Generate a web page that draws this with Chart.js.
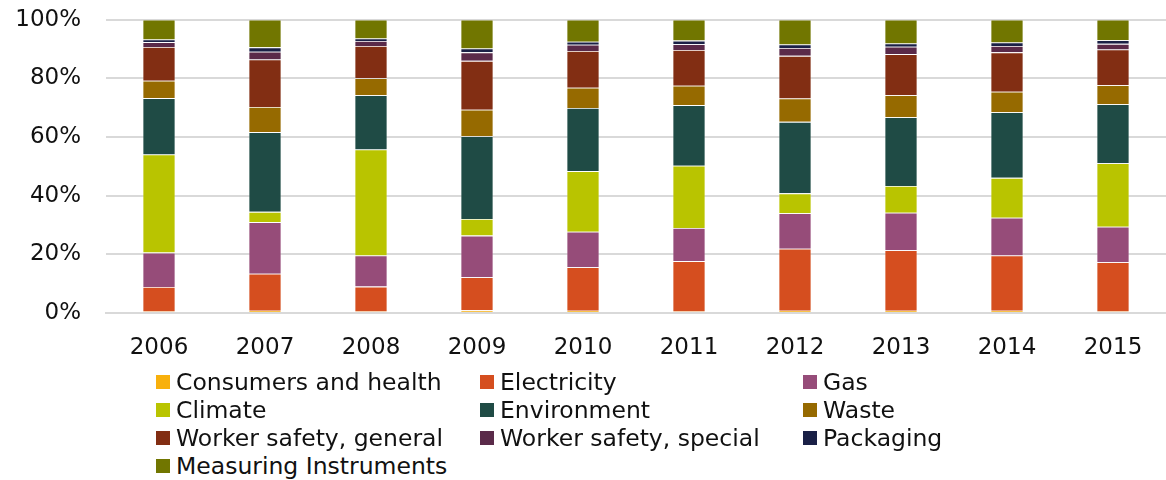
<!DOCTYPE html>
<html>
<head>
<meta charset="utf-8">
<script src="https://cdn.jsdelivr.net/npm/chart.js@4/dist/chart.umd.min.js"></script>
<style>
  html, body { margin: 0; padding: 0; background: #fff; overflow: hidden; }
  #wrap { position: relative; width: 1166px; height: 480px; overflow: hidden; }
  #chart { position: absolute; left: 0; top: -19px; }
  .leg { position: absolute; font: 23.5px "DejaVu Sans", Verdana, sans-serif; color: #111; white-space: nowrap; line-height: 28px; }
  .leg i { position: absolute; left: 0; top: 7px; width: 14px; height: 14px; }
  .leg span { position: absolute; left: 20px; top: 0; }
</style>
</head>
<body>
<div id="wrap">
  <canvas id="chart" width="1166" height="389"></canvas>
  <div id="legend"></div>
</div>
<script>
// years on the x axis
const years = ['2006', '2007', '2008', '2009', '2010', '2011', '2012', '2013', '2014', '2015'];

// shares in %
const consumersHealth  = [0.5, 0.8, 0.5, 0.9, 0.8, 0.5, 0.8, 0.8, 0.8, 0.5];
const electricity      = [8.4, 12.6, 8.5, 11.3, 14.8, 17.2, 21.1, 20.6, 18.8, 16.8];
const gas              = [11.7, 17.6, 10.6, 14.2, 12.1, 11.3, 12.1, 12.8, 12.9, 12.1];
const climate          = [33.5, 3.5, 36.2, 5.7, 20.7, 21.2, 6.8, 9.1, 13.6, 21.7];
const environment      = [19.2, 27.2, 18.5, 28.2, 21.5, 20.7, 24.4, 23.5, 22.4, 20.1];
const waste            = [5.9, 8.6, 5.8, 9.0, 6.9, 6.6, 8.0, 7.5, 7.0, 6.5];
const workerGeneral    = [11.5, 16.2, 11.0, 16.7, 12.6, 12.2, 14.5, 14.0, 13.4, 12.2];
const workerSpecial    = [1.7, 2.6, 1.7, 2.9, 2.1, 2.0, 2.7, 2.5, 2.2, 1.9];
const packaging        = [0.9, 1.5, 0.8, 1.3, 1.0, 1.2, 1.2, 1.1, 1.2, 1.2];
const measuringInstr   = [6.7, 9.4, 6.4, 9.8, 7.5, 7.1, 8.4, 8.1, 7.7, 7.0];

const yTicks = [0, 20, 40, 60, 80, 100];

const series = [
  { label: 'Consumers and health', data: consumersHealth, color: '#F8B00C' },
  { label: 'Electricity', data: electricity, color: '#D54E1F' },
  { label: 'Gas', data: gas, color: '#964C79' },
  { label: 'Climate', data: climate, color: '#B9C400' },
  { label: 'Environment', data: environment, color: '#1F4B45' },
  { label: 'Waste', data: waste, color: '#966A00' },
  { label: 'Worker safety, general', data: workerGeneral, color: '#822E13' },
  { label: 'Worker safety, special', data: workerSpecial, color: '#5A2A49' },
  { label: 'Packaging', data: packaging, color: '#1A2046' },
  { label: 'Measuring Instruments', data: measuringInstr, color: '#717600' }
];

const font = { family: '"DejaVu Sans", Verdana, sans-serif', size: 23 };
const gridColor = '#d9d9d9';

new Chart(document.getElementById('chart'), {
  type: 'bar',
  data: {
    labels: years,
    datasets: series.map(s => ({
      label: s.label,
      data: s.data,
      backgroundColor: s.color,
      borderColor: 'rgba(255,255,255,0.35)',
      borderWidth: 0.8,
      categoryPercentage: 1,
      barPercentage: 0.31
    }))
  },
  options: {
    responsive: false,
    animation: false,
    layout: { padding: 0 },
    plugins: { legend: { display: false }, tooltip: { enabled: false } },
    scales: {
      x: {
        stacked: true,
        grid: { display: false, drawTicks: false },
        border: { display: true, color: gridColor, width: 2 },
        ticks: { color: '#111', font, padding: 21, maxRotation: 0 },
        afterFit: s => { s.height = 57; }
      },
      y: {
        stacked: true,
        min: 0,
        max: 100,
        afterBuildTicks: s => { s.ticks = yTicks.map(v => ({ value: v })); },
        grid: { color: gridColor, lineWidth: 2, drawTicks: false },
        border: { display: false },
        ticks: { color: '#111', font, padding: 25, callback: v => v + '%' },
        afterFit: s => { s.width = 106; }
      }
    }
  }
});

// legend in three columns below the plot
const legendCols = [156, 480, 803];
const legendTop = 368;
const legendEl = document.getElementById('legend');
series.forEach((s, i) => {
  const d = document.createElement('div');
  d.className = 'leg';
  d.style.left = legendCols[i % 3] + 'px';
  d.style.top = (legendTop + Math.floor(i / 3) * 28) + 'px';
  d.innerHTML = '<i style="background:' + s.color + '"></i><span></span>';
  d.querySelector('span').textContent = s.label;
  legendEl.appendChild(d);
});
</script>
</body>
</html>
